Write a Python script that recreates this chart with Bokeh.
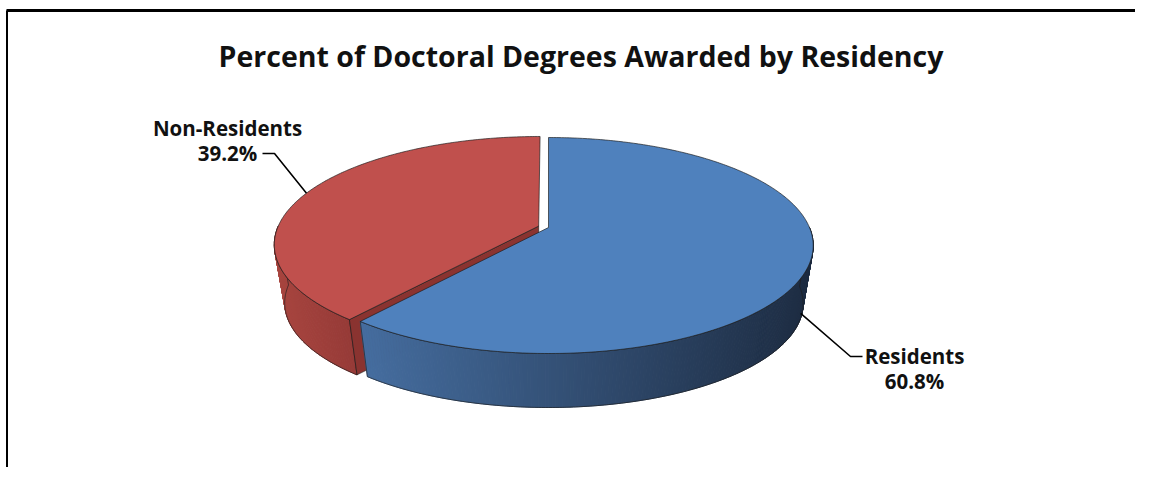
import numpy as np
from bokeh.plotting import figure
from bokeh.models import Range1d, ColumnDataSource
from bokeh.embed import file_html
from bokeh.resources import INLINE
from bokeh.core.properties import value

# ---------------- data ----------------
categories = ["Residents", "Non-Residents"]
percents = [60.8, 39.2]
explode = [0.0, 0.04]
title_text = "Percent of Doctoral Degrees Awarded by Residency"

# ---------------- styles ----------------
top_colors = ["#4F81BD", "#C0504D"]
side_left = ["#456D9F", "#A8453F"]
side_right = ["#1D2C42", "#963A37"]
cut_colors = ["#2E4A6E", "#8A3330"]
FONT = "Open Sans"

# label layout (page pixels): centre x, baseline of first line
label_pos = [(914, 355), (227, 127)]
leader_end = [(862, 356), (262, 153)]
LINE_GAP = 25

W, H = 1135, 467
CX, CY = 548, 227          # pie apex on screen
A, B, K = 261, 105, 0.1667  # rim size / perspective
VX, VY, RB = 548, 1774, 0.962  # vertical vanishing point / bottom scale


def proj(X, Y, bottom=False):
    X = np.asarray(X, dtype=float)
    Y = np.asarray(Y, dtype=float)
    s = 1.0 / (1.0 + K * Y)
    x = CX + A * X * s
    y = CY - B * Y * s
    if bottom:
        x = VX + (x - VX) * RB
        y = VY + (y - VY) * RB
    return x, y


def hex2rgb(h):
    h = h.lstrip("#")
    return np.array([int(h[i:i + 2], 16) for i in (0, 2, 4)], dtype=float)


def mix(c1, c2, t):
    c = hex2rgb(c1) * (1 - t) + hex2rgb(c2) * t
    return "#%02x%02x%02x" % tuple(int(round(v)) for v in c)


p = figure(width=W, height=H, x_range=Range1d(0, W), y_range=Range1d(H, 0),
           output_backend="svg", toolbar_location=None, x_axis_type=None, y_axis_type=None,
           min_border=0, outline_line_color=None, background_fill_color="white",
           border_fill_color="white")
p.grid.visible = False

# frame (top and left borders of the original chart area)
p.line([6, W], [10, 10], line_color="black", line_width=3)
p.line([6.5, 6.5], [10, H], line_color="black", line_width=2)

# ---------------- slice geometry ----------------
slices = []
start = 90.0
for i, pct in enumerate(percents):
    a0 = start
    a1 = start - pct * 3.6
    start = a1
    mid = np.radians((a0 + a1) / 2)
    dX = explode[i] * np.cos(mid)
    dY = explode[i] * np.sin(mid)
    slices.append(dict(i=i, a0=a0, a1=a1, mid=mid, dX=dX, dY=dY))

order = sorted(slices, key=lambda s: -np.sin(s["mid"]))  # back to front
OUT = "#1E1E1E"

for sl in order:
    i, a0, a1, dX, dY = sl["i"], sl["a0"], sl["a1"], sl["dX"], sl["dY"]

    # --- outer side (visible front half) ---
    lo = max(min(a0, a1), -180.0)
    hi = min(max(a0, a1), 0.0)
    if hi > lo:
        th = np.radians(np.linspace(lo, hi, max(8, int((hi - lo) * 1.5))))
        X = np.cos(th) + dX
        Y = np.sin(th) + dY
        tx, ty = proj(X, Y)
        bx, by = proj(X, Y, bottom=True)
        xmin, xmax = tx.min(), tx.max()
        qx, qy, qc = [], [], []
        for j in range(len(th) - 1):
            qx.append([tx[j], tx[j + 1], bx[j + 1], bx[j]])
            qy.append([ty[j], ty[j + 1], by[j + 1], by[j]])
            t = ((tx[j] + tx[j + 1]) / 2 - xmin) / max(xmax - xmin, 1)
            qc.append(mix(side_left[i], side_right[i], t))
        p.patches(xs=qx, ys=qy, fill_color=qc, line_color=qc, line_width=1)
        p.patch(np.concatenate([tx, bx[::-1]]), np.concatenate([ty, by[::-1]]),
                fill_color=None, line_color=OUT, line_width=0.8, line_alpha=0.8)

    # --- cut faces facing the viewer ---
    for ang, sign in ((a0, -1), (a1, 1)):
        r = np.radians(ang)
        visible = (np.cos(r) < -1e-6) if sign < 0 else (np.cos(r) > 1e-6)
        if not visible:
            continue
        ax_, ay_ = proj(dX, dY)
        abx, aby = proj(dX, dY, bottom=True)
        rx, ry = proj(np.cos(r) + dX, np.sin(r) + dY)
        rbx, rby = proj(np.cos(r) + dX, np.sin(r) + dY, bottom=True)
        p.patch([float(ax_), float(rx), float(rbx), float(abx)],
                [float(ay_), float(ry), float(rby), float(aby)],
                fill_color=cut_colors[i], line_color=OUT, line_width=0.8, line_alpha=0.8)

    # --- top face ---
    th = np.radians(np.linspace(a0, a1, max(8, int(abs(a1 - a0) * 1.5))))
    X = np.concatenate([[0.0], np.cos(th)]) + dX
    Y = np.concatenate([[0.0], np.sin(th)]) + dY
    tx, ty = proj(X, Y)
    p.patch(tx, ty, fill_color=top_colors[i], line_color=OUT, line_width=0.8, line_alpha=0.85)

# ---------------- leaders and labels ----------------
for sl in slices:
    i = sl["i"]
    m = sl["mid"]
    X = np.cos(m) + sl["dX"]
    Y = np.sin(m) + sl["dY"]
    sx, sy = proj(X, Y)
    if np.sin(m) < 0:
        bx, by = proj(X, Y, bottom=True)
        sx, sy = sx + 0.85 * (bx - sx), sy + 0.85 * (by - sy)
    ex, ey = leader_end[i]
    elbow_x = ex + (12 if sx > ex else -12)
    p.line([float(sx), elbow_x, ex], [float(sy), ey, ey], line_color="black", line_width=1.6)

src = ColumnDataSource(dict(
    x=[lp[0] for lp in label_pos] * 2,
    y=[lp[1] for lp in label_pos] + [lp[1] + LINE_GAP for lp in label_pos],
    t=categories + ["%.1f%%" % v for v in percents],
))
p.text(x="x", y="y", text="t", source=src, text_align="center", text_baseline="alphabetic",
       text_font=value(FONT), text_font_style="bold", text_font_size="20.5px", text_color="#111111")

p.text(x=[580.5], y=[55], text=[title_text], text_align="center", text_baseline="alphabetic",
       text_font=value(FONT), text_font_style="bold", text_font_size="28.5px", text_color="#111111")

open("out.html", "w").write(file_html(p, INLINE))
